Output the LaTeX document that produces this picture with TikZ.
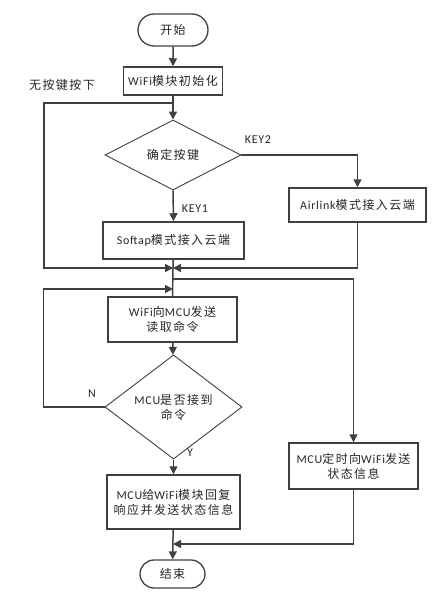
\documentclass[tikz,border=0pt]{standalone}
\usepackage{fontspec}
\setmainfont{Carlito}[LetterSpace=6]
\newfontfamily\cjk{Noto Sans CJK SC}[LetterSpace=12]
\usetikzlibrary{shapes.geometric,shapes.misc,arrows.meta}
\definecolor{linegray}{HTML}{404040}
\tikzset{
  every node/.style={font=\fontsize{12}{15}\selectfont, text=black!85},
  term/.style={draw=linegray, line width=1.3pt, rounded rectangle, inner sep=0pt},
  stepbox/.style={draw=linegray, line width=1.5pt, rectangle, inner sep=0pt, align=center},
  choice/.style={draw=linegray, line width=0.9pt, diamond, inner sep=0pt, align=center},
  arrow/.style={draw=linegray, line width=1.5pt, -{Triangle[length=8pt,width=8pt]}},
  line/.style={draw=linegray, line width=1.5pt},
}
\begin{document}
\begin{tikzpicture}[x=1pt, y=-1pt]
  \useasboundingbox (0,0) rectangle (441,594);
  % boxes
  \node[term, minimum width=70pt, minimum height=32pt] (start) at (173,30) {\cjk 开始};
  \node[stepbox, minimum width=99pt, minimum height=28pt] (init) at (173,81) {WiFi{\cjk 模块初始化}};
  \node[choice, minimum width=136pt, minimum height=70pt] (key) at (173,155) {\cjk 确定按键};
  \node[stepbox, minimum width=137pt, minimum height=34pt] (airlink) at (357.5,205) {Airlink{\cjk 模式接入云端}};
  \node[stepbox, minimum width=141pt, minimum height=37pt] (softap) at (173.5,240.5) {Softap{\cjk 模式接入云端}};
  \node[stepbox, minimum width=129pt, minimum height=45pt] (send) at (172.5,319.5) {WiFi{\cjk 向}MCU{\cjk 发送}\\{\cjk 读取命令}};
  \node[choice, minimum width=137pt, minimum height=72pt] (recv) at (173.5,407) {MCU{\cjk 是否接到}\\{\cjk 命令}};
  \node[stepbox, minimum width=133pt, minimum height=54pt] (reply) at (173.5,502) {MCU{\cjk 给}WiFi{\cjk 模块回复}\\{\cjk 响应并发送状态信息}};
  \node[stepbox, minimum width=129pt, minimum height=46pt] (timer) at (353.5,466) {MCU{\cjk 定时向}WiFi{\cjk 发送}\\{\cjk 状态信息}};
  \node[term, minimum width=65pt, minimum height=28pt] (stop) at (172.5,574) {\cjk 结束};
  % joints
  \coordinate (j1) at (173,103);
  \coordinate (m1) at (173,268);
  \coordinate (m2) at (173,279);
  \coordinate (m3) at (173,289);
  \coordinate (m4) at (173,544);
  % labels
  \node (nokey) at (62,85) {\cjk 无按键按下};
  \node (k2) at (258,140) {KEY2};
  \node (k1) at (195,209) {KEY1};
  \node (no) at (92,394) {N};
  \node (yes) at (190,453) {Y};
  % connectors
  \draw[arrow] (start) -- (init);
  \draw[arrow] (init) -- (key);
  \draw[arrow] (j1) -- ++(-129,0) |- (m1);
  \draw[arrow] (key.east) -| (airlink.north);
  \draw[arrow] (key.south) -- (softap.north);
  \draw[line] (softap) -- (m1);
  \draw[arrow] (airlink.south) |- (m1);
  \draw[line] (m1) -- (send.north);
  \draw[arrow] (m2) -| (timer.north);
  \draw[arrow] (send) -- (recv);
  \draw[arrow] (recv.west) -- ++(-61,0) |- (m3);
  \draw[arrow] (recv.south) -- (reply.north);
  \draw[arrow] (reply) -- (stop);
  \draw[arrow] (timer.south) |- (m4);
\end{tikzpicture}
\end{document}
